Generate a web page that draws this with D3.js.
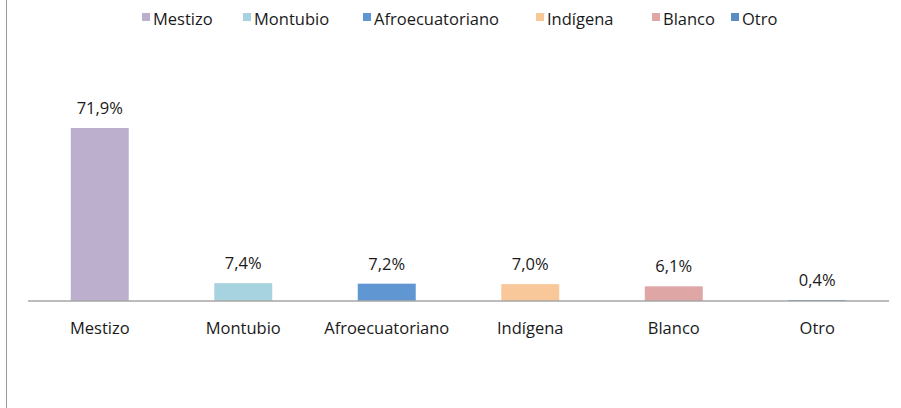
<!DOCTYPE html>
<html>
<meta charset="utf-8">
<style>
    body { margin: 0; background: #fff; }
    text { font-family: "Open Sans", Lato, sans-serif; fill: #1a1a1a; }
    .axis-line { stroke: #a6a6a6; stroke-width: 1.5px; }
    .frame { stroke: #9a9a9a; stroke-width: 1px; }
</style>
<body>
<script src="https://cdnjs.cloudflare.com/ajax/libs/d3/7.8.5/d3.min.js"></script>
<script>
    var width = 901,
        height = 408;

    var categories = ["Mestizo", "Montubio", "Afroecuatoriano", "Indígena", "Blanco", "Otro"];
    var values = [71.9, 7.4, 7.2, 7.0, 6.1, 0.4];
    var labels = ["71,9%", "7,4%", "7,2%", "7,0%", "6,1%", "0,4%"];
    var colors = ["#bcafcd", "#a6d3df", "#6097d3", "#f9c89a", "#dea6a5", "#5a8cc3"];

    // legend slots, left edge of each swatch
    var legendX = [142, 243, 363, 536, 652, 731];

    var svg = d3.select("body").append("svg")
        .attr("width", width)
        .attr("height", height);

    // left frame edge
    svg.append("line")
        .attr("class", "frame")
        .attr("x1", 6.5).attr("x2", 6.5)
        .attr("y1", 0).attr("y2", height);

    var x = d3.scaleBand()
        .domain(categories)
        .range([28, 889])
        .paddingInner(0.596)
        .paddingOuter(0.298);

    var y = d3.scaleLinear()
        .domain([0, 71.9])
        .range([301, 128]);

    svg.selectAll(".bar")
        .data(values)
        .enter().append("rect")
        .attr("class", "bar")
        .attr("x", function (d, i) { return x(categories[i]); })
        .attr("width", x.bandwidth())
        .attr("y", function (d) { return y(d); })
        .attr("height", function (d) { return y(0) - y(d); })
        .attr("fill", function (d, i) { return colors[i]; });

    svg.append("line")
        .attr("class", "axis-line")
        .attr("x1", 28).attr("x2", 889)
        .attr("y1", y(0)).attr("y2", y(0));

    svg.selectAll(".val")
        .data(values)
        .enter().append("text")
        .attr("class", "val")
        .attr("x", function (d, i) { return x(categories[i]) + x.bandwidth() / 2; })
        .attr("y", function (d) { return y(d) - 14; })
        .attr("text-anchor", "middle")
        .style("font-size", "16.5px")
        .text(function (d, i) { return labels[i]; });

    svg.selectAll(".cat")
        .data(categories)
        .enter().append("text")
        .attr("class", "cat")
        .attr("x", function (d) { return x(d) + x.bandwidth() / 2; })
        .attr("y", 334)
        .attr("text-anchor", "middle")
        .style("font-size", "16.5px")
        .text(function (d) { return d; });

    var legend = svg.selectAll(".legend")
        .data(categories)
        .enter().append("g")
        .attr("class", "legend")
        .attr("transform", function (d, i) { return "translate(" + legendX[i] + ",0)"; });

    legend.append("rect")
        .attr("x", 0).attr("y", 13)
        .attr("width", 8).attr("height", 8)
        .attr("fill", function (d, i) { return colors[i]; });

    legend.append("text")
        .attr("x", 11).attr("y", 25)
        .style("font-size", "16.5px")
        .text(function (d) { return d; });
</script>
</body>
</html>
